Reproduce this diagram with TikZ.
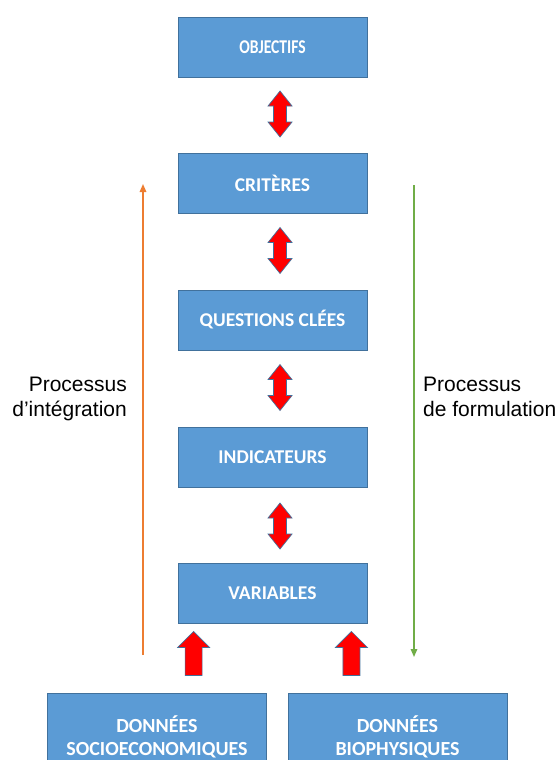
\documentclass[tikz,border=0pt]{standalone}
\usepackage{fontspec}
\setmainfont{Liberation Sans}
\newfontfamily\boxfont{Carlito}
\usetikzlibrary{calc,arrows.meta}
\definecolor{boxblue}{HTML}{5B9BD5}
\definecolor{boxline}{HTML}{41719C}
\definecolor{arrred}{HTML}{FF0000}
\definecolor{orangel}{HTML}{ED7D31}
\definecolor{greenl}{HTML}{70AD47}
\begin{document}
\begin{tikzpicture}[x=1pt,y=-1pt,
  stepbox/.style={rectangle, fill=boxblue, draw=boxline, line width=0.8pt, text=white,
    minimum width=189pt, minimum height=60pt, inner sep=0pt,
    font=\boxfont\bfseries\fontsize{19.5}{23}\selectfont},
  databox/.style={rectangle, fill=boxblue, draw=boxline, line width=0.8pt,
    minimum width=219pt, minimum height=110pt, inner sep=0pt},
  datatext/.style={text=white, inner sep=0pt, anchor=base,
    font=\boxfont\bfseries\fontsize{20}{26}\selectfont},
  redarr/.style={fill=arrred, draw=boxline, line width=0.7pt, line join=miter},
  dblarrow/.pic={\draw[redarr] (0,-23) -- (12,-8) -- (6.5,-8) -- (6.5,8) -- (12,8) -- (0,23)
      -- (-12,8) -- (-6.5,8) -- (-6.5,-8) -- (-12,-8) -- cycle;},
  uparrow/.pic={\draw[redarr] (0,-22) -- (16,-6) -- (8.5,-6) -- (8.5,22) -- (-8.5,22)
      -- (-8.5,-6) -- (-16,-6) -- cycle;},
  proclabel/.style={inner sep=0pt, font=\fontsize{21}{25}\selectfont},
  procline/.style={line width=1.5pt, -{Triangle[width=6.5pt,length=8pt]}}
]
\useasboundingbox (0,0) rectangle (557,760);

\node[stepbox] (obj)   at (272.5,47)  {\scalebox{0.8}[1]{OBJECTIFS}};
\node[stepbox] (crit)  at (272.5,183) {CRITÈRES};
\node[stepbox] (quest) at (272.5,320) {QUESTIONS CLÉES};
\node[stepbox] (ind)   at (272.5,457) {INDICATEURS};
\node[stepbox] (var)   at (272.5,593) {VARIABLES};

\node[databox] (dsoc) at (157,748) {};
\node[databox] (dbio) at (397.5,748) {};
\node[datatext] (tsoc1) at ($(dsoc.north)+(0,40)$) {DONNÉES};
\node[datatext] (tsoc2) at ($(dsoc.north)+(0,63)$) {SOCIOECONOMIQUES};
\node[datatext] (tbio1) at ($(dbio.north)+(0,40)$) {DONNÉES};
\node[datatext] (tbio2) at ($(dbio.north)+(0,63)$) {BIOPHYSIQUES};

\pic at ($(obj.south)!0.5!(crit.north)+(7.5,-1)$) {dblarrow};
\pic at ($(crit.south)!0.5!(quest.north)+(7.5,-1)$) {dblarrow};
\pic at ($(quest.south)!0.5!(ind.north)+(7.5,-1)$) {dblarrow};
\pic at ($(ind.south)!0.5!(var.north)+(7.5,1)$) {dblarrow};

\pic at ($(var.south west)+(16,30)$) {uparrow};
\pic at ($(var.south east)+(-16,30)$) {uparrow};

\coordinate (ostart) at (143,655);
\coordinate (oend) at (143,184);
\draw[procline, orangel] (ostart) -- (oend);
\coordinate (gstart) at (414,185);
\coordinate (gend) at (414,657);
\draw[procline, greenl] (gstart) -- (gend);

\node[proclabel, align=right, anchor=north east] (lint) at (127,376.5) {Processus\\d’intégration};
\node[proclabel, align=left, anchor=north west] (lform) at (423,376.5) {Processus\\de formulation};
\end{tikzpicture}
\end{document}
